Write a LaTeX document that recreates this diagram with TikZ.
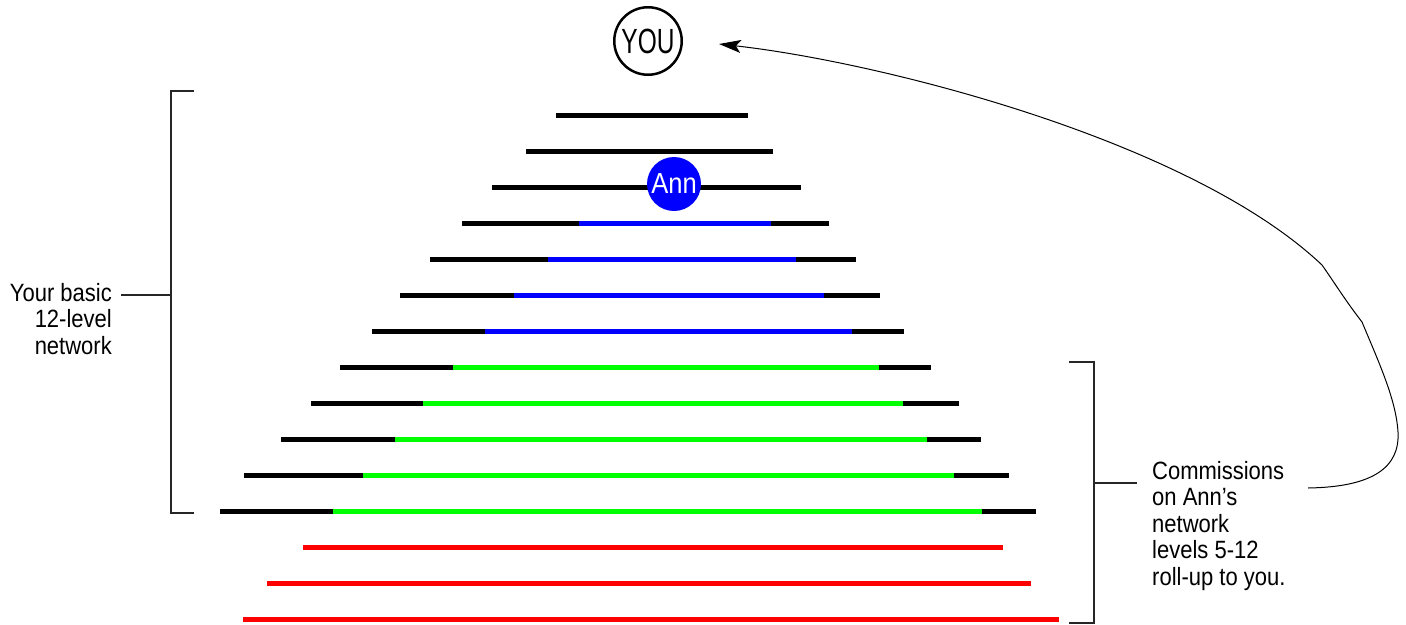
\documentclass[tikz,border=0pt]{standalone}
\usepackage{fontspec}
\setmainfont{Liberation Sans}[FakeStretch=0.88]
\newfontfamily\youfont{Liberation Sans}[FakeStretch=0.7]
\usetikzlibrary{arrows.meta}
\definecolor{barblue}{RGB}{0,0,255}
\definecolor{bargreen}{RGB}{0,255,0}
\definecolor{barred}{RGB}{255,0,0}
\begin{document}
\begin{tikzpicture}[x=1pt,y=-1pt,
  bar/.style={line width=5pt},
  brk/.style={line width=1.1pt, black!85},
  lbl/.style={inner sep=0pt, font=\fontsize{25}{26.5}\selectfont},
  conn/.style={line width=1pt, -{Stealth[length=22pt,width=13pt,inset=5pt]}}]
\useasboundingbox (0,0) rectangle (1406,624);
% black bars
\foreach \y/\a/\b in {115/556/748, 151/526/773, 187/492/801, 223/462/829,
  259/430/856, 295/400/880, 331/372/904, 367/340/931, 403/311/959,
  439/281/981, 475/244/1009, 511/220/1036}
  \draw[bar] (\a,\y) -- (\b,\y);
% blue
\foreach \y/\a/\b in {223/579/771, 259/548/796, 295/514/824, 331/485/852}
  \draw[bar, barblue] (\a,\y) -- (\b,\y);
% green
\foreach \y/\a/\b in {367/453/879, 403/423/903, 439/395/927, 475/363/954, 511/333/982}
  \draw[bar, bargreen] (\a,\y) -- (\b,\y);
% red
\foreach \y/\a/\b in {547/303/1003, 583/267/1031, 619/243/1059}
  \draw[bar, barred] (\a,\y) -- (\b,\y);
% nodes
\node[circle, draw, line width=2.5pt, minimum size=67.5pt, inner sep=0pt,
  font=\youfont\fontsize{35}{35}\selectfont] (you) at (648,41) {YOU};
\node[circle, fill=barblue, minimum size=54pt, inner sep=0pt, text=white,
  font=\fontsize{29}{29}\selectfont] (ann) at (674,184) {Ann};
\node[lbl, align=right, anchor=north east] (leftlbl) at (112,283)
  {Your basic\\12-level\\network};
\node[lbl, align=left, anchor=north west] (rightlbl) at (1152,461)
  {Commissions\\on Ann’s\\network\\levels 5-12\\roll-up to you.};
% brackets
\coordinate (lt) at (171,295);
\coordinate (rt) at (1094,483);
\draw[brk] (194,91) -- (171,91) -- (171,513) -- (194,513);
\draw[brk] (lt) -- (121,295);
\draw[brk] (1069,362) -- (1094,362) -- (1094,623) -- (1069,623);
\draw[brk] (rt) -- (1137,483);
% roll-up arrow
\coordinate (cstart) at (1308,488);
\coordinate (tip) at (719,44);
\draw[conn] (cstart) .. controls (1372,487) and (1400,468) .. (1398,432)
  .. controls (1396,400) and (1380,365) .. (1362,322)
  .. controls (1345,300) and (1334,282) .. (1322,265)
  .. controls (1190,140) and (880,62) .. (tip);
\end{tikzpicture}
\end{document}
